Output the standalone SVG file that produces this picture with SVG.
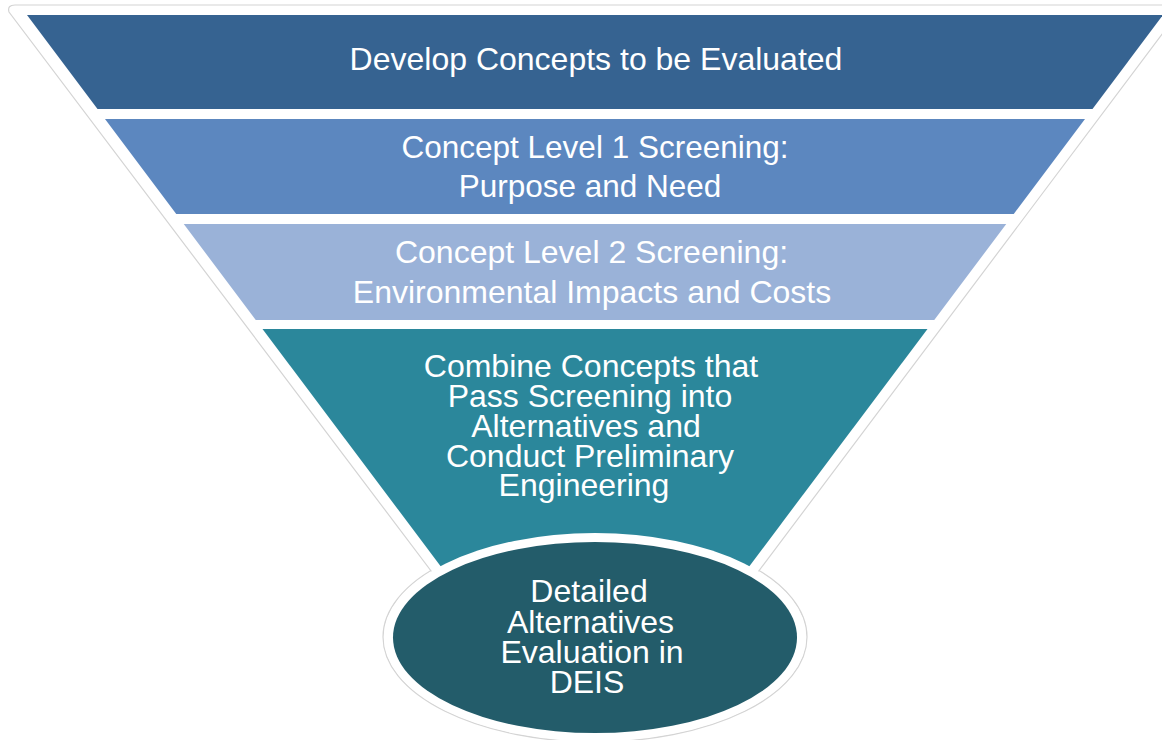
<svg xmlns="http://www.w3.org/2000/svg" width="1162" height="740" viewBox="0 0 1162 740">
  <style>
    .lbl { font-family: "Liberation Sans", Arial, sans-serif; font-size: 32px; fill: #ffffff; text-anchor: middle; }
    .outline { fill: #ffffff; stroke: #d4d4d4; stroke-width: 1.2; }
  </style>
  <rect width="1162" height="740" fill="#ffffff"/>
  <g id="frame">
    <ellipse class="outline" cx="595" cy="637" rx="212" ry="105"/>
    <path class="outline" d="M 15 5 L 1184 5 L 737 600 L 453 600 L 9 12 Q 7 5 15 5 Z"/>
  </g>
  <g id="connectors"></g>
  <g id="band1">
    <polygon points="27,15 1163,15 1092.5,109 97.5,109" fill="#366391"/>
    <text class="lbl" x="596" y="70">Develop Concepts to be Evaluated</text>
  </g>
  <g id="band2">
    <polygon points="105,119 1085,119 1013.75,214 176.25,214" fill="#5c87bf"/>
    <text class="lbl" x="595" y="158" style="font-size:31.5px">Concept Level 1 Screening:</text>
    <text class="lbl" x="590" y="197" style="font-size:31.5px">Purpose and Need</text>
  </g>
  <g id="band3">
    <polygon points="183.75,224 1006.25,224 934.25,320 255.75,320" fill="#9ab2d8"/>
    <text class="lbl" x="591.5" y="263">Concept Level 2 Screening:</text>
    <text class="lbl" x="592" y="303">Environmental Impacts and Costs</text>
  </g>
  <g id="band4">
    <polygon points="262.5,329 927.5,329 724,600 466,600" fill="#2b879b"/>
    <text class="lbl" x="591" y="377">Combine Concepts that</text>
    <text class="lbl" x="590" y="407">Pass Screening into</text>
    <text class="lbl" x="586" y="437">Alternatives and</text>
    <text class="lbl" x="590" y="467">Conduct Preliminary</text>
    <text class="lbl" x="584" y="496">Engineering</text>
  </g>
  <g id="deis">
    <ellipse cx="595" cy="637" rx="211" ry="104" fill="#ffffff"/>
    <ellipse cx="595" cy="637.5" rx="202" ry="95.5" fill="#235c6a"/>
    <text class="lbl" x="589" y="602">Detailed</text>
    <text class="lbl" x="590.5" y="633">Alternatives</text>
    <text class="lbl" x="592" y="663">Evaluation in</text>
    <text class="lbl" x="587" y="693">DEIS</text>
  </g>
</svg>
